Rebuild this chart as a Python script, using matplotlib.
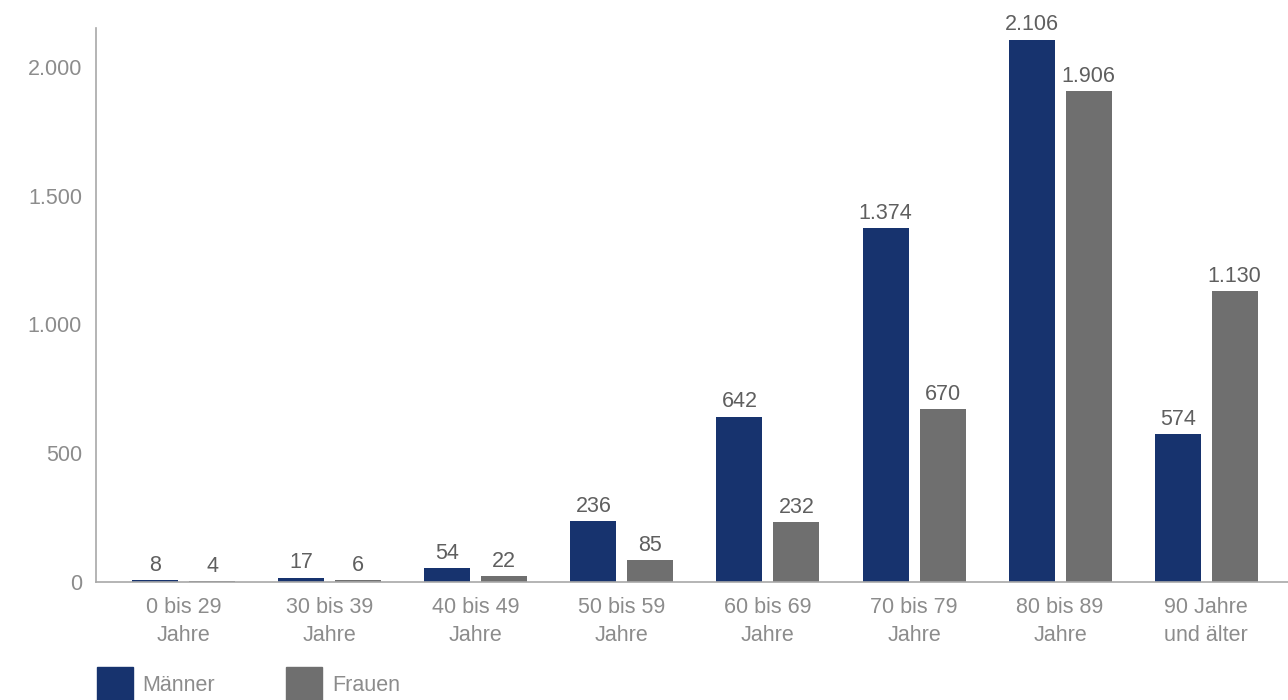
import matplotlib
matplotlib.use("Agg")
import matplotlib.pyplot as plt
from matplotlib.patches import Patch
import numpy as np

categories = ["0 bis 29\nJahre", "30 bis 39\nJahre", "40 bis 49\nJahre", "50 bis 59\nJahre",
              "60 bis 69\nJahre", "70 bis 79\nJahre", "80 bis 89\nJahre", "90 Jahre\nund älter"]
maenner = [8, 17, 54, 236, 642, 1374, 2106, 574]
frauen = [4, 6, 22, 85, 232, 670, 1906, 1130]
yticks = [0, 500, 1000, 1500, 2000]

c_m = "#17336e"
c_f = "#6f6f6f"
tick_col = "#8c8c8c"
val_col = "#5f5f5f"
fs = 15.5

plt.rcParams['font.family'] = ['Liberation Sans', 'DejaVu Sans']

fig = plt.figure(figsize=(12.88, 7), dpi=100)
ax = fig.add_axes([96/1288, 1-582/700, 1-96/1288, (582-28)/700])

x = np.arange(len(categories))
w = 0.315
off = 0.195
bm = ax.bar(x - off, maenner, w, color=c_m)
bf = ax.bar(x + off, frauen, w, color=c_f)

def fmt(v):
    return f"{v:,}".replace(",", ".")

for bars, vals in ((bm, maenner), (bf, frauen)):
    for b, v in zip(bars, vals):
        ax.annotate(fmt(v), (b.get_x() + b.get_width()/2, v), xytext=(0, 3),
                    textcoords="offset points", ha="center", va="bottom",
                    fontsize=fs, color=val_col)

ax.set_xlim(-0.6, 7.56)
ax.set_ylim(0, 2151)
ax.set_yticks(yticks)
ax.set_yticklabels([fmt(v) for v in yticks])
ax.set_xticks(x)
ax.set_xticklabels(categories, linespacing=1.45)
ax.tick_params(axis="both", length=0, labelsize=fs, labelcolor=tick_col)
ax.tick_params(axis="y", pad=10)
ax.tick_params(axis="x", pad=11)
for s in ("top", "right"):
    ax.spines[s].set_visible(False)
for s in ("left", "bottom"):
    ax.spines[s].set_color("#a8a8a8")
    ax.spines[s].set_linewidth(1.2)

handles = [Patch(color=c_m, label="Männer"), Patch(color=c_f, label="Frauen")]
leg = fig.legend(handles=handles, loc="upper left", bbox_to_anchor=(97/1288, 1-667/700),
                 ncol=2, frameon=False, fontsize=fs, handlelength=1.67, handleheight=2.1,
                 handletextpad=0.45, columnspacing=3.3, borderpad=0, borderaxespad=0)
for t in leg.get_texts():
    t.set_color(tick_col)

fig.savefig("out.png", dpi=100)
